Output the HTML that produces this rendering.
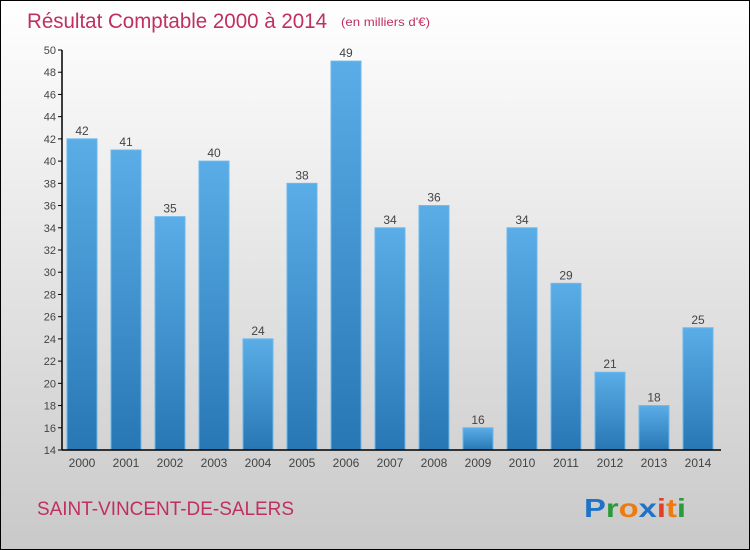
<!DOCTYPE html>
<html><head><meta charset="utf-8"><style>
body{margin:0}
#c{width:748px;height:548px;border:1px solid #000;background:linear-gradient(#ffffff,#c9c9c9);position:relative;font-family:"Liberation Sans",sans-serif;overflow:hidden}
</style></head><body>
<div id="c">
<svg width="748" height="548">
<defs><linearGradient id="g" x1="0" y1="0" x2="0" y2="1"><stop offset="0" stop-color="#5aade6"/><stop offset="1" stop-color="#2877b5"/></linearGradient></defs>
<text x="26" y="27" font-size="21" fill="#c0305f" textLength="300" lengthAdjust="spacingAndGlyphs" style="font-weight:300">Résultat Comptable 2000 à 2014</text>
<text x="340" y="25" font-size="12" fill="#c0305f" textLength="89" lengthAdjust="spacingAndGlyphs">(en milliers d'€)</text>
<g id="plot"></g>
<text x="36" y="514" font-size="19" fill="#c0305f" textLength="257" lengthAdjust="spacingAndGlyphs">SAINT-VINCENT-DE-SALERS</text>
<text x="583" y="516" font-size="26" font-weight="bold" textLength="102" lengthAdjust="spacingAndGlyphs"><tspan fill="#1e73c8">P</tspan><tspan fill="#2a9a3a">r</tspan><tspan fill="#f07a10">o</tspan><tspan fill="#1e73c8">x</tspan><tspan fill="#e0402a">i</tspan><tspan fill="#f07a10">t</tspan><tspan fill="#2a9a3a">i</tspan></text>
</svg></div>
<script>
const years=["2000","2001","2002","2003","2004","2005","2006","2007","2008","2009","2010","2011","2012","2013","2014"];
const values=[42,41,35,40,24,38,49,34,36,16,34,29,21,18,25];
const yTicks=[14,16,18,20,22,24,26,28,30,32,34,36,38,40,42,44,46,48,50];
const NS="http://www.w3.org/2000/svg";
const g=document.getElementById('plot');
const y=v=>449-(v-14)*(400/36);
const x=i=>81+i*44;
function mk(t,a){const e=document.createElementNS(NS,t);for(const k in a)e.setAttribute(k,a[k]);g.appendChild(e);return e;}
yTicks.forEach(t=>{
 const l=mk('line',{x1:57,x2:61,y1:y(t),y2:y(t),stroke:'#000'});
 
 
 const tx=mk('text',{x:55,y:y(t)+4,'text-anchor':'end','font-size':11,fill:'#444'});tx.textContent=t;
 
 
});
values.forEach((v,i)=>{
 const r=mk('rect',{x:x(i)-15,y:y(v),width:30,height:y(14)-y(v),fill:'url(#g)',stroke:'#6bb8ee','stroke-width':1});
 
 
 const t=mk('text',{x:x(i),y:y(v)-4,'text-anchor':'middle','font-size':12,fill:'#444'});t.textContent=v;
 
 
 const yl=mk('text',{x:x(i),y:466,'text-anchor':'middle','font-size':12,fill:'#444'});yl.textContent=years[i];
 
 
});
const ax=mk('line',{x1:61,x2:61,y1:y(50),y2:y(14),stroke:'#000','stroke-width':1.5});


const bx=mk('line',{x1:61,x2:720,y1:y(14),y2:y(14),stroke:'#000','stroke-width':1.5});


</script>
</body></html>
